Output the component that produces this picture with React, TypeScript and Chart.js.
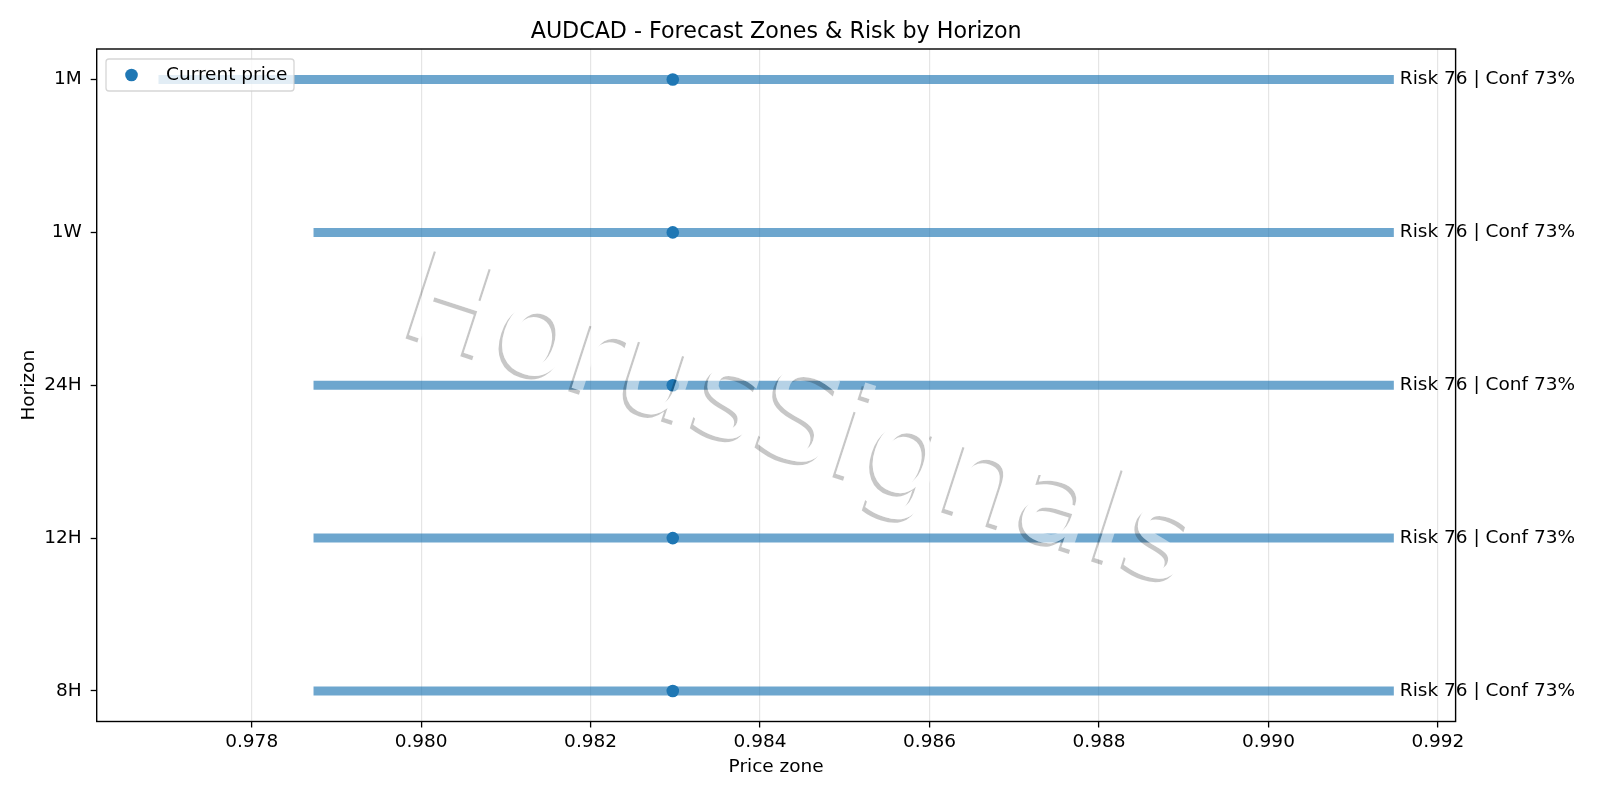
import React, { useEffect, useRef } from "react";
import { Chart, registerables } from "chart.js";

Chart.register(...registerables);

const horizons = ["1M", "1W", "24H", "12H", "8H"];
const zoneLow = [0.9769, 0.97873, 0.97873, 0.97873, 0.97873];
const zoneHigh = [0.99148, 0.99148, 0.99148, 0.99148, 0.99148];
const currentPrice = [0.98297, 0.98297, 0.98297, 0.98297, 0.98297];
const riskScores = [76, 76, 76, 76, 76];
const confidences = [73, 73, 73, 73, 73];
const xTickValues = [0.978, 0.98, 0.982, 0.984, 0.986, 0.988, 0.99, 0.992];

const TITLE = "AUDCAD - Forecast Zones & Risk by Horizon";
const WATERMARK = "HorusSignals";
const FONT = '"DejaVu Sans", "Liberation Sans", sans-serif';
const BLUE = "#1f77b4";
const BAR = "rgba(31,119,180,0.65)";
const FS = 18.5;

const dataMin = Math.min(...zoneLow, ...currentPrice);
const dataMax = Math.max(...zoneHigh, ...currentPrice);
const margin = (dataMax - dataMin) * 0.05;

const decorPlugin = {
  id: "decor",
  afterDatasetsDraw(chart: any) {
    const { ctx, chartArea: a, scales } = chart;
    const xs = scales.x;
    const ys = scales.y;
    ctx.save();
    // frame
    ctx.strokeStyle = "#000";
    ctx.lineWidth = 1.4;
    ctx.strokeRect(a.left, a.top, a.right - a.left, a.bottom - a.top);
    // risk labels
    ctx.fillStyle = "#000";
    ctx.font = `${FS}px ${FONT}`;
    ctx.textAlign = "left";
    ctx.textBaseline = "middle";
    horizons.forEach((h, i) => {
      const x = xs.getPixelForValue(zoneHigh[i]) + 6;
      const y = ys.getPixelForValue(i);
      ctx.fillText(`Risk ${riskScores[i]} | Conf ${confidences[i]}%`, x, y);
    });
    // legend
    const lx = a.left + 9.3;
    const ly = a.top + 10;
    const lw = 188;
    const lh = 32;
    ctx.beginPath();
    ctx.roundRect(lx, ly, lw, lh, 3);
    ctx.fillStyle = "rgba(255,255,255,0.8)";
    ctx.fill();
    ctx.strokeStyle = "rgba(204,204,204,0.8)";
    ctx.lineWidth = 1.3;
    ctx.stroke();
    ctx.beginPath();
    ctx.arc(lx + 25.5, ly + lh / 2, 6.3, 0, Math.PI * 2);
    ctx.fillStyle = BLUE;
    ctx.fill();
    ctx.fillStyle = "#000";
    ctx.font = `${FS}px ${FONT}`;
    ctx.textBaseline = "middle";
    ctx.fillText("Current price", lx + 60, ly + lh / 2);
    // title
    ctx.font = `22.2px ${FONT}`;
    ctx.textAlign = "center";
    ctx.textBaseline = "middle";
    ctx.fillText(TITLE, (a.left + a.right) / 2, 32.3);
    ctx.restore();
  },
  afterDraw(chart: any) {
    const { ctx, chartArea: a } = chart;
    const cx = (a.left + a.right) / 2 + 12;
    const cy = (a.top + a.bottom) / 2 + 73;
    const ang = (18 * Math.PI) / 180;
    const drawText = (c: CanvasRenderingContext2D, dx: number, dy: number) => {
      c.save();
      c.translate(cx + dx, cy + dy);
      c.rotate(ang);
      c.font = `126px ${FONT}`;
      c.textAlign = "center";
      c.textBaseline = "alphabetic";
      c.fillText(WATERMARK, 0, 0);
      c.restore();
    };
    const off = document.createElement("canvas");
    off.width = chart.canvas.width;
    off.height = chart.canvas.height;
    const o = off.getContext("2d")!;
    o.fillStyle = "rgba(0,0,0,0.22)";
    drawText(o, -3.5, 3.5);
    o.globalCompositeOperation = "destination-out";
    o.fillStyle = "#000";
    drawText(o, 0, 0);
    ctx.save();
    ctx.drawImage(off, 0, 0, chart.width, chart.height);
    ctx.fillStyle = "rgba(255,255,255,0.5)";
    drawText(ctx, 0, 0);
    ctx.restore();
  },
};

export default function App() {
  const ref = useRef<HTMLCanvasElement | null>(null);
  useEffect(() => {
    if (!ref.current) return;
    const datasets: any[] = [
      {
        label: "Current price",
        data: horizons.map((_, i) => ({ x: currentPrice[i], y: i })),
        backgroundColor: BLUE,
        borderColor: BLUE,
        borderWidth: 0,
        pointRadius: 6.3,
        showLine: false,
      },
      ...horizons.map((h, i) => ({
        label: h,
        data: [
          { x: zoneLow[i], y: i },
          { x: zoneHigh[i], y: i },
        ],
        showLine: true,
        borderColor: BAR,
        backgroundColor: BAR,
        borderWidth: 9,
        borderCapStyle: "butt",
        pointRadius: 0,
      })),
    ];
    const chart = new Chart(ref.current, {
      type: "scatter",
      data: { datasets },
      plugins: [decorPlugin],
      options: {
        animation: false,
        responsive: false,
        layout: { padding: { top: 49, right: 144.4, bottom: 0, left: 0 } },
        plugins: {
          legend: { display: false },
          tooltip: { enabled: false },
          title: { display: false },
        },
        scales: {
          x: {
            type: "linear",
            min: dataMin - margin,
            max: dataMax + margin,
            afterBuildTicks: (s: any) => {
              s.ticks = xTickValues.map((v) => ({ value: v }));
            },
            afterFit: (s: any) => {
              s.height = 78.5;
            },
            ticks: {
              color: "#000",
              font: { family: FONT, size: FS },
              padding: 3.7,
              maxRotation: 0,
              callback: (v: any) => Number(v).toFixed(3),
            },
            grid: {
              color: "rgba(0,0,0,0.1)",
              lineWidth: 1.2,
              tickColor: "#000",
              tickLength: 6,
              tickWidth: 1.3,
              drawTicks: true,
            },
            border: { display: false },
            title: {
              display: true,
              text: "Price zone",
              color: "#000",
              font: { family: FONT, size: FS },
              padding: { top: 0, bottom: 22.2 },
            },
          },
          y: {
            type: "linear",
            reverse: true,
            min: -0.2,
            max: horizons.length - 1 + 0.2,
            afterBuildTicks: (s: any) => {
              s.ticks = horizons.map((_, i) => ({ value: i }));
            },
            afterFit: (s: any) => {
              s.width = 96.7;
            },
            ticks: {
              color: "#000",
              font: { family: FONT, size: FS },
              padding: 9,
              callback: (v: any) => horizons[Math.round(Number(v))] ?? "",
            },
            grid: {
              drawOnChartArea: false,
              tickColor: "#000",
              tickLength: 6,
              tickWidth: 1.3,
              drawTicks: true,
            },
            border: { display: false },
            title: {
              display: true,
              text: "Horizon",
              color: "#000",
              font: { family: FONT, size: FS },
              padding: { top: 18.5, bottom: 0 },
            },
          },
        },
      } as any,
    });
    return () => chart.destroy();
  }, []);
  return (
    <div style={{ position: "absolute", left: 0, top: 0, width: 1600, height: 800, background: "#fff" }}>
      <canvas ref={ref} width={1600} height={800} style={{ display: "block" }} />
    </div>
  );
}
